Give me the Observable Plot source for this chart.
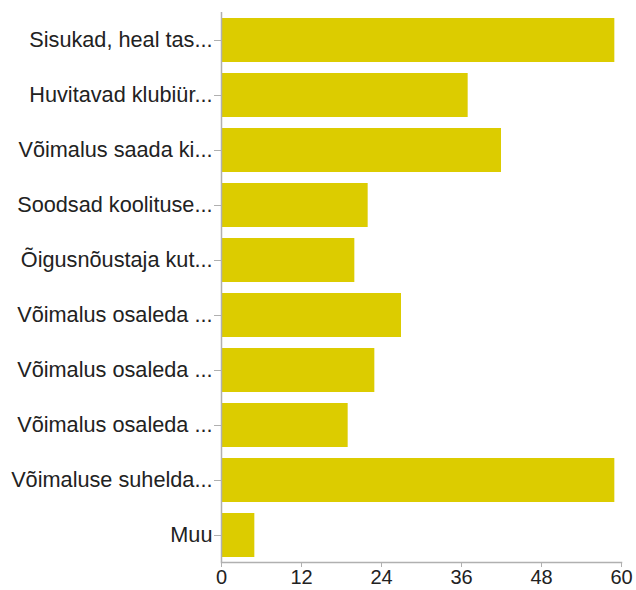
<!DOCTYPE html>
<html>
<head>
<meta charset="utf-8">
<script src="https://cdn.jsdelivr.net/npm/d3@7"></script>
<script src="https://cdn.jsdelivr.net/npm/@observablehq/plot@0.6"></script>
<style>
  html, body { margin: 0; padding: 0; background: #fff; }
</style>
</head>
<body>
<div id="chart"></div>
<script>
const labels = [
  "Sisukad, heal tas...",
  "Huvitavad klubiür...",
  "Võimalus saada ki...",
  "Soodsad koolituse...",
  "Õigusnõustaja kut...",
  "Võimalus osaleda ...",
  "Võimalus osaleda ...",
  "Võimalus osaleda ...",
  "Võimaluse suhelda...",
  "Muu"
];
const values = [59, 37, 42, 22, 20, 27, 23, 19, 59, 5];
const xTicks = [0, 12, 24, 36, 48, 60];

const data = labels.map((label, i) => ({i, label, value: values[i]}));

const chart = Plot.plot({
  width: 636,
  height: 590,
  marginTop: 12,
  marginBottom: 28,
  marginLeft: 221,
  marginRight: 15,
  style: {fontFamily: "'Liberation Sans', Arial, Helvetica, sans-serif", fontSize: "21.7px", color: "#222", background: "#fff"},
  x: {domain: [0, 60]},
  y: {domain: d3.range(labels.length), paddingInner: 0.2, paddingOuter: 0.1},
  marks: [
    Plot.barX(data, {x: "value", y: "i", fill: "#dccc00"}),
    Plot.ruleX([0], {stroke: "#b0b0b0", strokeWidth: 1.5}),
    Plot.frame({anchor: "bottom", stroke: "#b0b0b0", strokeWidth: 1.5}),
    Plot.axisX({ticks: xTicks, tickSize: 5, tickPadding: 2, fontSize: 20, stroke: "#b0b0b0", fill: "#222", label: null}),
    Plot.axisY({tickSize: 7, tickPadding: 2, stroke: "#b0b0b0", fill: "#222", label: null, tickFormat: i => labels[i]})
  ]
});
document.getElementById("chart").appendChild(chart);
</script>
</body>
</html>
